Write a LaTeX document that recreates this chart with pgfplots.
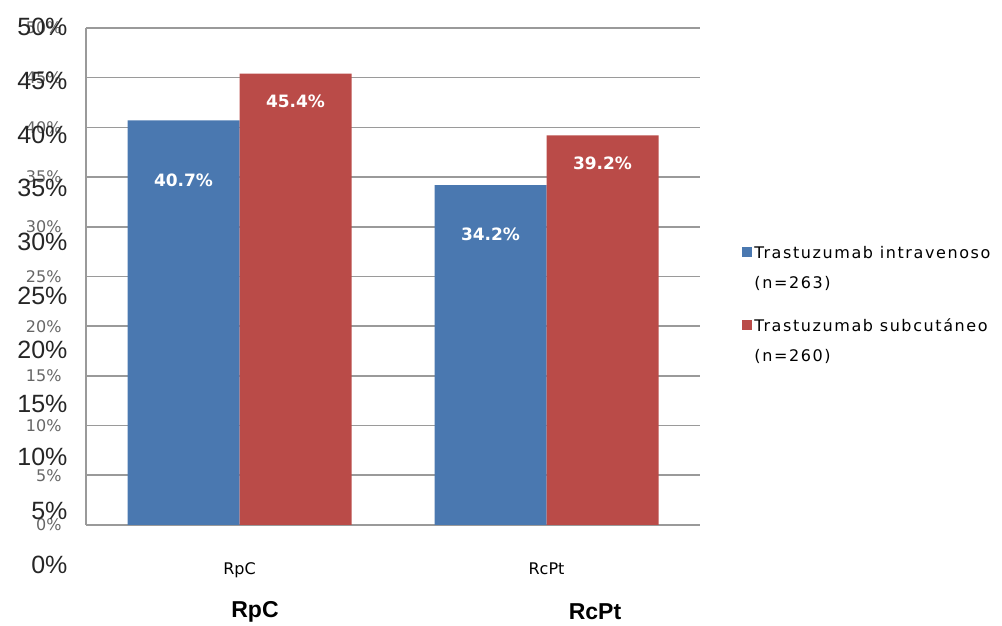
\documentclass[border=0pt]{standalone}
\usepackage{pgfplots}
\pgfplotsset{compat=1.18}
\usepackage{fontspec}
\setmainfont{Liberation Sans}
\newfontfamily\tah{DejaVu Sans}
\newfontfamily\tahw[LetterSpace=10]{DejaVu Sans}
\definecolor{cblue}{HTML}{4A78B0}
\definecolor{cred}{HTML}{BA4B48}
\definecolor{cgrid}{HTML}{9A9A9A}
\begin{document}
\begin{tikzpicture}[x=1bp,y=1bp]
\useasboundingbox (0,0) rectangle (1002,626);
\begin{axis}[
  at={(86bp,101bp)}, anchor=south west,
  width=614bp, height=497bp, scale only axis,
  ybar=0pt, bar width=112bp,
  xmin=-0.5, xmax=1.5, ymin=0, ymax=50,
  xtick=data, xticklabels={RpC,RcPt},
  xticklabel style={font=\tah\fontsize{16bp}{18bp}\selectfont, yshift=-34bp},
  ytick={0,5,...,50},
  yticklabel={\pgfmathprintnumber{\tick}\%},
  yticklabel style={font=\tah\fontsize{16bp}{18bp}\selectfont, text=black!60, xshift=-21bp},
  /pgf/number format/assume math mode=true,
  major tick length=0pt,
  ymajorgrids, grid style={cgrid, line width=1.6bp},
  axis x line*=bottom, axis y line*=left,
  axis line style={cgrid, line width=1.6bp, -},
  legend style={at={(1.064,0.57)}, anchor=north west, draw=none, fill=none,
    font=\tahw\fontsize{16bp}{30bp}\selectfont, row sep=25bp,
    cells={anchor=west, align=left}},
  legend image code/.code={\fill[#1] (0bp,11bp) rectangle (10bp,21bp);},
  nodes near coords={\pgfmathprintnumber[fixed,precision=1,fixed zerofill]{\pgfplotspointmeta}\%},
  every node near coord/.append style={font=\tah\bfseries\fontsize{17bp}{19bp}\selectfont, text=white, anchor=center},
]
\addplot[fill=cblue, draw=none,
  every node near coord/.append style={yshift=-60bp},
  coordinate style/.condition={x==1}{yshift=11bp}] coordinates {(0,40.7) (1,34.2)};
\addplot[fill=cred, draw=none,
  every node near coord/.append style={yshift=-28bp}] coordinates {(0,45.4) (1,39.2)};
\legend{Trastuzumab intravenoso\\(n=263), Trastuzumab subcut\'aneo\\(n=260)}
\end{axis}
\begin{axis}[
  at={(86bp,61bp)}, anchor=south west,
  width=614bp, height=538bp, scale only axis,
  xmin=0, xmax=1, ymin=0, ymax=50,
  xtick=\empty, ytick={0,5,...,50},
  yticklabel={\pgfmathprintnumber{\tick}\%},
  yticklabel style={font=\fontsize{25bp}{28bp}\selectfont, text=black!85, xshift=-15bp},
  /pgf/number format/assume math mode=true,
  major tick length=0pt, axis line style={draw=none},
]
\end{axis}
\node[font=\bfseries\fontsize{23bp}{25bp}\selectfont] at (255,14) {RpC};
\node[font=\bfseries\fontsize{23bp}{25bp}\selectfont] at (595,14) {RcPt};
\end{tikzpicture}
\end{document}
